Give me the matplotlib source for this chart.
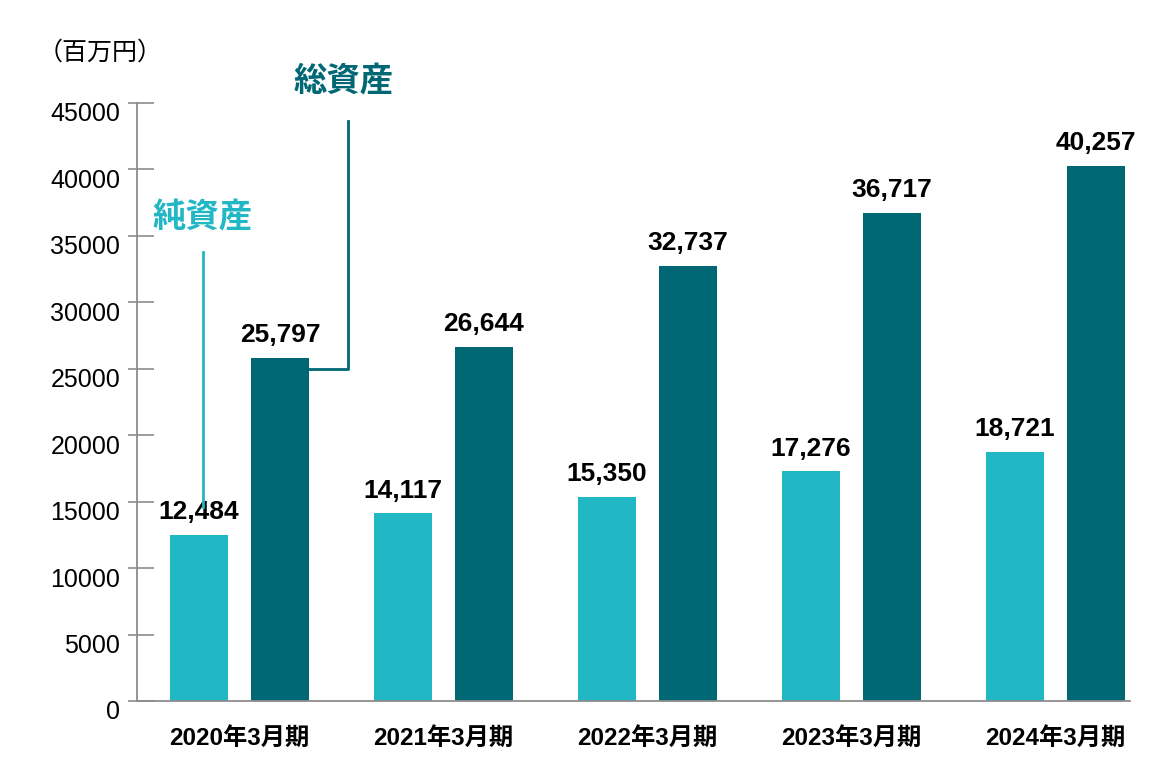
import numpy as np
import matplotlib.pyplot as plt
from matplotlib.transforms import ScaledTranslation

plt.rcParams['font.family'] = ['Liberation Sans', 'Noto Sans CJK JP']

# data
periods = ['2020年3月期', '2021年3月期', '2022年3月期', '2023年3月期', '2024年3月期']
net_assets = [12484, 14117, 15350, 17276, 18721]
total_assets = [25797, 26644, 32737, 36717, 40257]

light = '#22B7C4'
dark = '#006874'
grey = '#8c8c8c'

fig = plt.figure(figsize=(11.5, 7.8), dpi=100)
ax = fig.add_axes([0.1191, 0.1013, 0.8635, 0.767])

x = np.arange(len(periods))
off = 0.1985
w = 0.284

ax.bar(x - off, net_assets, w, color=light, zorder=2)
ax.bar(x + off, total_assets, w, color=dark, zorder=2)

for xi, v in zip(x - off, net_assets):
    ax.text(xi, v + 800, f'{v:,}', ha='center', va='bottom',
            fontsize=19, fontweight='bold', color='black')
for xi, v in zip(x + off, total_assets):
    ax.text(xi, v + 800, f'{v:,}', ha='center', va='bottom',
            fontsize=19, fontweight='bold', color='black')

ax.set_xlim(-0.502, 4.365)
ax.set_ylim(0, 45000)
ax.set_yticks(np.arange(0, 45001, 5000))
ax.set_yticks(np.arange(0, 45001, 5000), minor=True)
ax.yaxis.remove_overlapping_locs = False
ax.set_xticks(x)
ax.set_xticklabels(periods, fontsize=17.5, fontweight='bold')

for s in ['top', 'right']:
    ax.spines[s].set_visible(False)
for s in ['left', 'bottom']:
    ax.spines[s].set_color(grey)
    ax.spines[s].set_linewidth(1.3)

ax.tick_params(axis='y', which='major', direction='in', length=12, width=1.2,
               color=grey, labelsize=18, pad=12)
ax.tick_params(axis='y', which='minor', direction='out', length=6.5, width=1.2,
               color=grey, labelleft=False)
ax.tick_params(axis='x', which='both', length=0, pad=19)

# shift y labels down slightly like the reference
shift = ScaledTranslation(0, -9 / 100, fig.dpi_scale_trans)
for lab in ax.get_yticklabels():
    lab.set_transform(lab.get_transform() + shift)

# unit label
fig.text(0.033, 0.932, '（百万円）', fontsize=18, ha='left', va='center',
         family=['Noto Sans CJK JP'])

# legend leaders
x_tot = 0.532
ax.plot([x[0] + off + w / 2, x_tot, x_tot], [25000, 25000, 43600],
        color=dark, lw=2, clip_on=False, zorder=3)
ax.text(x_tot - 0.02, 46600, '総資産', color=dark, fontsize=24, fontweight='bold',
        ha='center', va='center', family=['Noto Sans CJK JP'])

x_net = -0.179
ax.plot([x_net, x_net], [14600, 33770], color=light, lw=2, clip_on=False, zorder=3)
ax.text(x_net, 36300, '純資産', color=light, fontsize=24, fontweight='bold',
        ha='center', va='center', family=['Noto Sans CJK JP'])

fig.savefig('out.png', dpi=100)
